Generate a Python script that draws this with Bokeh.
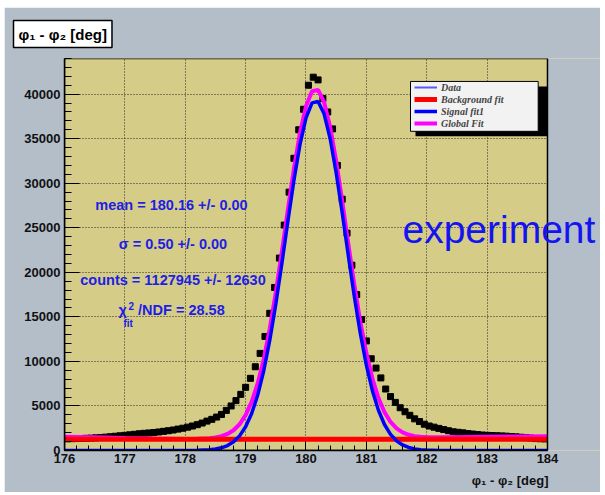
from bokeh.plotting import figure
from bokeh.models import (Range1d, SingleIntervalTicker, BasicTickFormatter, Label,
                          BoxAnnotation, Legend, LegendItem, Title, Spacer)
from bokeh.layouts import column, row
from bokeh.embed import file_html
from bokeh.resources import INLINE
import numpy as np

# ---------------- data ----------------
bin_lo = 176.0
bin_width = 0.08
counts = [1310, 1330, 1340, 1350, 1370, 1390, 1420, 1460, 1500, 1550,
          1600, 1650, 1700, 1760, 1820, 1880, 1930, 1970, 2020, 2080,
          2150, 2220, 2300, 2400, 2500, 2620, 2750, 2900, 3080, 3300,
          3500, 3750, 4050, 4500, 5000, 5600, 6300, 7090, 8100, 9400,
          10900, 12800, 15400, 18300, 21600, 25300, 29000, 32800, 36000, 38300,
          41000, 41900, 41600, 39500, 38000, 36100, 32000, 28200, 24400, 20800,
          17500, 14700, 12300, 10300, 9250, 8150, 6900, 6050, 5400, 4800,
          4350, 3950, 3550, 3250, 2950, 2750, 2620, 2480, 2350, 2220,
          2100, 2040, 1980, 1900, 1850, 1790, 1740, 1700, 1680, 1660,
          1640, 1610, 1570, 1530, 1490, 1440, 1400, 1340, 1320, 1300]
bin_centers = bin_lo + bin_width * (np.arange(len(counts)) + 0.5)

fit_x = [176.0, 176.5, 177.0, 177.5, 178.0, 178.2, 178.4, 178.5, 178.6, 178.7,
         178.8, 178.9, 179.0, 179.1, 179.2, 179.3, 179.4, 179.5, 179.6, 179.7,
         179.8, 179.9, 180.0, 180.1, 180.2, 180.3, 180.4, 180.5, 180.6, 180.7,
         180.8, 180.9, 181.0, 181.1, 181.2, 181.3, 181.4, 181.5, 181.6, 181.7,
         181.8, 181.9, 182.0, 182.2, 182.4, 183.0, 183.5, 184.0]
signal_fit = [0, 0, 0, 0, 4, 18, 80, 159, 303, 553,
              972, 1642, 2665, 4155, 6222, 8953, 12380, 16450, 20990, 25740,
              30330, 34330, 37340, 39020, 39170, 37790, 35020, 31190, 26690, 21930,
              17320, 13150, 9585, 6713, 4519, 2922, 1815, 1084, 621, 342,
              181, 92, 45, 10, 0, 0, 0, 0]
global_fit = [1550, 1480, 1400, 1340, 1304, 1318, 1380, 1459, 1603, 1853,
              2272, 2942, 3965, 5455, 7522, 10253, 13680, 17750, 22290, 27040,
              31630, 35630, 38640, 40320, 40470, 39090, 36320, 32490, 27990, 23230,
              18620, 14450, 10935, 8073, 5889, 4302, 3205, 2484, 2031, 1762,
              1611, 1532, 1495, 1480, 1490, 1550, 1580, 1600]
bkg_x = [176.0, 184.0]
bkg_y = [1250, 1250]

x_lo, x_hi = 176, 184
y_lo, y_hi = 0, 44000

stats = ["mean = 180.16 +/- 0.00", "\u03c3 = 0.50 +/- 0.00", "counts = 1127945 +/- 12630"]
chi_text = "/NDF = 28.58"
legend_labels = ["Data", "Background fit", "Signal fit1", "Global Fit"]
title_text = "\u03c6\u2081 - \u03c6\u2082 [deg]"

# ---------------- styles ----------------
FRAME = "#d4cc87"
CANVAS = "#b4bec9"
TXTBLUE = "#1e1ee6"
SANS = "Liberation Sans"

# frame is widened to the right edge of the canvas so that the big label can overhang;
# the part beyond x_hi is painted with the canvas colour
p = figure(width=596, height=485, x_range=Range1d(x_lo, 184.878), y_range=Range1d(y_lo, y_hi),
           output_backend="svg", toolbar_location=None,
           min_border_left=60, min_border_right=0, min_border_top=50, min_border_bottom=42)
p.background_fill_color = FRAME
p.border_fill_color = CANVAS
p.outline_line_color = None

p.xaxis.ticker = SingleIntervalTicker(interval=1, num_minor_ticks=5)
p.xaxis.bounds = (x_lo, x_hi)
p.yaxis.ticker = SingleIntervalTicker(interval=5000, num_minor_ticks=5)
p.yaxis.formatter = BasicTickFormatter(use_scientific=False)
for ax in (p.xaxis[0], p.yaxis[0]):
    ax.axis_line_color = "black"
    ax.axis_line_width = 1.5
    ax.major_tick_line_color = "black"
    ax.minor_tick_line_color = "black"
    ax.major_tick_out = 0
    ax.minor_tick_out = 0
    ax.major_label_text_font = SANS
    ax.major_label_text_font_style = "bold"
    ax.major_label_text_font_size = "13px"
    ax.major_label_text_color = "#111111"
p.yaxis.major_tick_in = 15
p.yaxis.minor_tick_in = 7
p.yaxis.major_label_standoff = 4
p.xaxis.major_tick_in = 9
p.xaxis.minor_tick_in = 5
p.xaxis.major_label_standoff = 3

for g in (p.xgrid[0], p.ygrid[0]):
    g.grid_line_color = "black"
    g.grid_line_dash = "1 2"
    g.grid_line_width = 1
    g.grid_line_alpha = 0.8

# data markers
p.scatter(bin_centers, counts, marker="square", size=6, color="black")

# fits
r_glob = p.line(fit_x, global_fit, line_color="#ff00ff", line_width=4)
r_bkg = p.line(bkg_x, bkg_y, line_color="#ff0000", line_width=5)
r_sig = p.line(fit_x, signal_fit, line_color="#0000ff", line_width=3.5)
r_data = p.line(x=[np.nan], y=[np.nan], line_color="#5a5aff", line_width=2)

# canvas colour beyond the frame, and frame border
p.add_layout(BoxAnnotation(left=x_hi, fill_color=CANVAS, fill_alpha=1, line_alpha=0))
p.add_layout(BoxAnnotation(left=x_lo, right=x_hi, bottom=y_lo, top=y_hi, fill_alpha=0,
                           line_color="black", line_width=1.5, line_alpha=1))

# legend box with shadow
p.add_layout(BoxAnnotation(left=181.814, right=184.0, top=40864, bottom=35266,
                           fill_color="black", fill_alpha=1, line_alpha=0))
p.add_layout(BoxAnnotation(left=181.731, right=183.846, top=41424, bottom=35826,
                           fill_color="#f2f2f2", fill_alpha=1, line_color="black",
                           line_width=1, line_alpha=1))
legend = Legend(items=[LegendItem(label=legend_labels[0], renderers=[r_data]),
                       LegendItem(label=legend_labels[1], renderers=[r_bkg]),
                       LegendItem(label=legend_labels[2], renderers=[r_sig]),
                       LegendItem(label=legend_labels[3], renderers=[r_glob])],
                location=(350, 321), padding=0, margin=0, spacing=0,
                glyph_width=23, glyph_height=12, label_height=12, label_standoff=4,
                label_text_font="Liberation Serif", label_text_font_style="bold italic",
                label_text_font_size="10px", label_text_line_height=1.0,
                background_fill_alpha=0, border_line_alpha=0)
p.add_layout(legend)

# stats text
stat_pos = [(177.772, 27540), (177.797, 23210), (177.797, 19110)]
for (sx, sy), t in zip(stat_pos, stats):
    p.add_layout(Label(x=sx, y=sy, text=t, text_align="center", text_baseline="alphabetic",
                       text_font=SANS, text_font_style="bold", text_font_size="14.5px",
                       text_color=TXTBLUE))
p.add_layout(Label(x=176.894, y=14925, text="\u03c7", text_font=SANS, text_font_style="bold",
                   text_font_size="14.5px", text_color=TXTBLUE))
p.add_layout(Label(x=177.06, y=15790, text="2", text_font=SANS, text_font_style="bold",
                   text_font_size="10px", text_color=TXTBLUE))
p.add_layout(Label(x=176.977, y=13660, text="fit", text_font=SANS, text_font_style="bold",
                   text_font_size="10px", text_color=TXTBLUE))
p.add_layout(Label(x=177.219, y=14925, text=chi_text, text_font=SANS, text_font_style="bold",
                   text_font_size="14.5px", text_color=TXTBLUE))

# experiment
p.add_layout(Label(x=181.598, y=22391, text="experiment", text_font=SANS,
                   text_font_size="39px", text_color="#1414f0"))

# title box (top-left)
p.title.text = title_text
p.title.align = "left"
p.title.offset = -51
p.title.standoff = 22
p.title.text_font = SANS
p.title.text_font_style = "bold"
p.title.text_font_size = "15px"
p.title.text_color = "black"
p.title.background_fill_color = "white"
p.title.background_fill_alpha = 1
p.title.border_line_color = "black"
p.title.border_line_width = 1.5
p.title.padding = 5

# x axis title (bottom right)
p.add_layout(Title(text=title_text, align="right", offset=52, text_font=SANS,
                   text_font_style="bold", text_font_size="13px", text_color="#111111"),
             "below")

layout = column(Spacer(height=7), row(Spacer(width=4), p))
open("out.html", "w").write(file_html(layout, INLINE))
